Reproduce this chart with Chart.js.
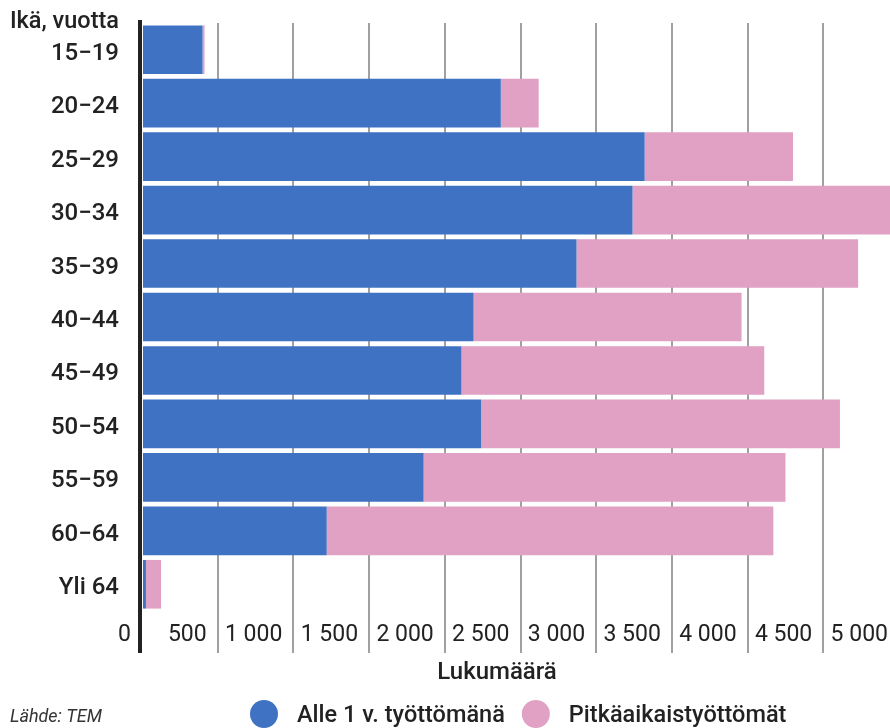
<!DOCTYPE html>
<html lang="fi">
<head>
<meta charset="utf-8">
<title>Työttömät ikäryhmittäin</title>
<script src="https://cdn.jsdelivr.net/npm/chart.js@4/dist/chart.umd.min.js"></script>
<style>
    html, body { margin: 0; padding: 0; background: #fff; overflow: hidden; }
    #wrap { width: 899px; height: 728px; }
</style>
</head>
<body>
<div id="wrap"><canvas id="chart" width="899" height="728"></canvas></div>
<script>
// Data
const ageGroups = ['15−19', '20−24', '25−29', '30−34', '35−39', '40−44', '45−49', '50−54', '55−59', '60−64', 'Yli 64'];
const shortTerm = [400, 2370, 3320, 3240, 2870, 2190, 2110, 2240, 1860, 1220, 26];
const longTerm = [13, 250, 980, 1780, 1860, 1770, 2000, 2370, 2390, 2950, 100];
const xTickValues = [0, 500, 1000, 1500, 2000, 2500, 3000, 3500, 4000, 4500, 5000];
const seriesNames = ['Alle 1 v. työttömänä', 'Pitkäaikaistyöttömät'];
const seriesColors = ['#4072C4', '#E0A1C4'];

const textColor = '#222';
const fontFamily = 'Roboto, "Noto Sans", sans-serif';

// Finnish style thousands: 1 000
function formatNumber(v) {
    return String(v).replace(/\B(?=(\d{3})+(?!\d))/g, '\u00A0');
}

// Texts outside the plot: axis titles, legend and source
const extraTexts = {
    id: 'extraTexts',
    afterDatasetsDraw(chart) {
        const ctx = chart.ctx;
        const x0 = chart.scales.x.getPixelForValue(0);
        // dark zero axis line
        ctx.save();
        ctx.fillStyle = '#222';
        ctx.fillRect(x0 - 4, 20, 4, 633);
        ctx.restore();
    },
    afterDraw(chart) {
        const ctx = chart.ctx;
        ctx.save();
        ctx.fillStyle = textColor;
        ctx.textBaseline = 'middle';

        ctx.font = '500 23.5px ' + fontFamily;
        ctx.textAlign = 'right';
        ctx.fillText('Ikä, vuotta', 119, 22);

        ctx.font = '500 24px ' + fontFamily;
        ctx.textAlign = 'center';
        ctx.fillText('Lukumäärä', 497, 673);

        // legend
        ctx.font = '500 23.5px ' + fontFamily;
        ctx.textAlign = 'left';
        let x = 250;
        chart.data.datasets.forEach(ds => {
            ctx.fillStyle = ds.backgroundColor;
            ctx.beginPath();
            ctx.arc(x + 14, 714, 14, 0, Math.PI * 2);
            ctx.fill();
            ctx.fillStyle = textColor;
            ctx.fillText(ds.label, x + 47, 716);
            x += 47 + ctx.measureText(ds.label).width + 17;
        });

        ctx.font = 'italic 18px ' + fontFamily;
        ctx.fillStyle = '#333';
        ctx.fillText('Lähde: TEM', 10, 717);
        ctx.restore();
    }
};

new Chart(document.getElementById('chart'), {
    type: 'bar',
    data: {
        labels: ageGroups,
        datasets: [
            { label: seriesNames[0], data: shortTerm, backgroundColor: seriesColors[0] },
            { label: seriesNames[1], data: longTerm, backgroundColor: seriesColors[1] }
        ]
    },
    options: {
        indexAxis: 'y',
        responsive: false,
        animation: false,
        devicePixelRatio: 1,
        layout: { padding: { top: 23, left: 0, right: 0, bottom: 0 } },
        datasets: {
            bar: { barPercentage: 0.91, categoryPercentage: 1.0, borderWidth: 0 }
        },
        plugins: {
            legend: { display: false },
            tooltip: { enabled: false }
        },
        scales: {
            x: {
                stacked: true,
                min: 0,
                max: 5000,
                afterBuildTicks: s => { s.ticks = xTickValues.map(v => ({ value: v })); },
                afterFit: s => { s.height = 117; },
                border: { display: false },
                grid: {
                    color: c => (c.tick && c.tick.value === 0) ? 'rgba(0,0,0,0)' : '#A0A0A0',
                    lineWidth: 2,
                    drawTicks: true,
                    tickLength: 42,
                    tickColor: c => (c.tick && c.tick.value === 0) ? 'rgba(0,0,0,0)' : '#A0A0A0',
                    tickWidth: 2
                },
                ticks: {
                    autoSkip: false,
                    maxRotation: 0,
                    align: 'end',
                    labelOffset: -11,
                    padding: -32,
                    color: textColor,
                    font: { family: fontFamily, size: 23, weight: '400' },
                    callback: v => formatNumber(v)
                }
            },
            y: {
                stacked: true,
                afterFit: s => {
                    s.width = 142;
                    s.paddingTop = 0;
                    s.paddingBottom = 0;
                },
                border: { display: false },
                grid: { display: false, drawTicks: false },
                ticks: {
                    padding: 23,
                    labelOffset: 4,
                    color: textColor,
                    font: { family: fontFamily, size: 24, weight: '500' }
                }
            }
        }
    },
    plugins: [extraTexts]
});
</script>
</body>
</html>
